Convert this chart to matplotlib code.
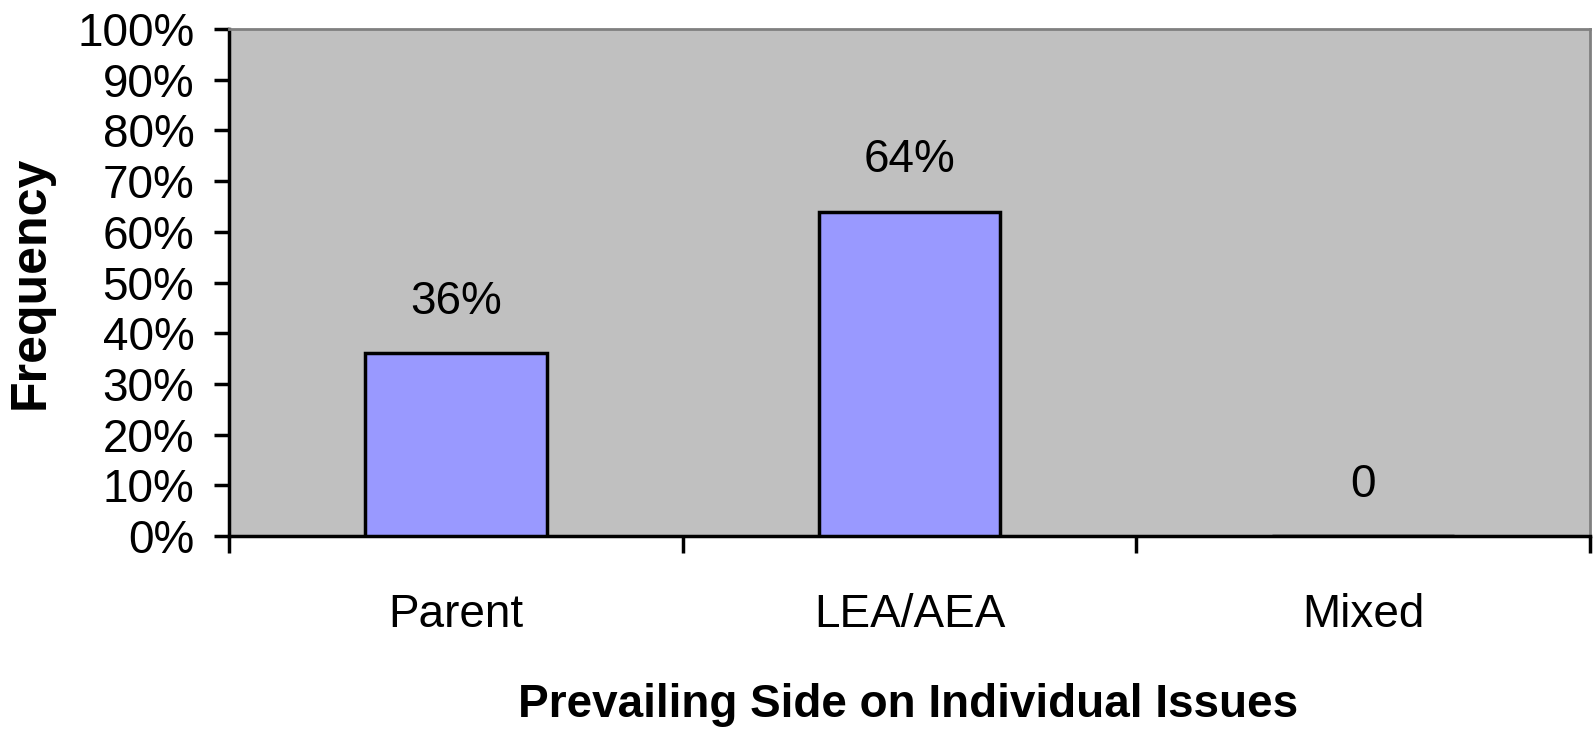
import matplotlib
matplotlib.use("Agg")
import matplotlib.pyplot as plt
import numpy as np

categories = ["Parent", "LEA/AEA", "Mixed"]
values = [36, 64, 0]
value_labels = ["36%", "64%", "0"]
y_ticks = [0, 10, 20, 30, 40, 50, 60, 70, 80, 90, 100]
y_tick_labels = [f"{t}%" for t in y_ticks]

plt.rcParams['font.family'] = ['Liberation Sans', 'DejaVu Sans']

fig = plt.figure(figsize=(15.95, 7.32), dpi=100)
ax = fig.add_axes([229/1595, 1 - 536/732, (1590-229)/1595, (536-29)/732])
ax.set_facecolor("#c0c0c0")

x = np.arange(len(categories))
ax.bar(x, values, width=0.4, color="#9999ff", edgecolor="black", linewidth=2.5, zorder=3)

for xi, v, lab in zip(x, values, value_labels):
    ax.annotate(lab, (xi, v), xytext=(0, 37), textcoords="offset points",
                ha="center", va="center", fontsize=33)

ax.set_xlim(-0.5, len(categories) - 0.5)
ax.set_ylim(0, 100)
ax.set_yticks(y_ticks)
ax.set_yticklabels(y_tick_labels, fontsize=33)
ax.tick_params(axis="y", direction="out", length=11, width=2.5, pad=14)

# category labels at centers, tick marks at boundaries
ax.set_xticks(np.arange(-0.5, len(categories), 1.0))
ax.set_xticklabels([])
ax.tick_params(axis="x", direction="out", length=12, width=2.5)
ax.set_xticks(x, minor=True)
ax.set_xticklabels(categories, minor=True, fontsize=33)
ax.tick_params(axis="x", which="minor", length=0, pad=41)

for side in ["left", "bottom"]:
    ax.spines[side].set_linewidth(2.5)
    ax.spines[side].set_color("black")
for side in ["top", "right"]:
    ax.spines[side].set_linewidth(2)
    ax.spines[side].set_color("#808080")

fig.text(31/1595, 1 - ((29+536)/2)/732, "Frequency", rotation=90, ha="center", va="center",
         fontsize=36, fontweight="bold")
fig.text(908/1595, 1 - 705/732, "Prevailing Side on Individual Issues", ha="center", va="center",
         fontsize=33, fontweight="bold")

fig.savefig("out.png", dpi=100)
